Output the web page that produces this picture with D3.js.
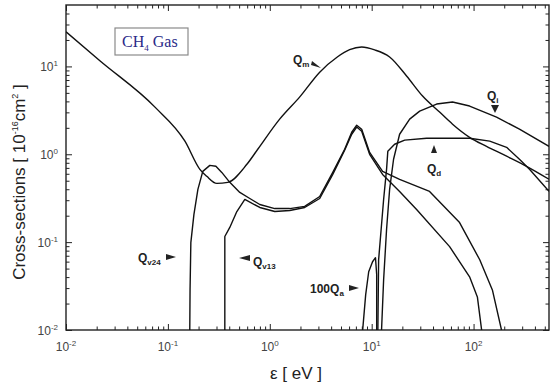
<!DOCTYPE html>
<html>
<head>
<style>
  body { margin: 0; background: #fff; }
  .curve { fill: none; stroke: #111; stroke-width: 1.4; stroke-linejoin: round; }
  .frame { fill: none; stroke: #222; stroke-width: 1.4; }
  .tick line { stroke: #222; stroke-width: 1; }
  .ticklabel { font-family: Arial, "Liberation Sans", sans-serif; font-size: 12px; fill: #444; }
  .anno { font-family: Arial, "Liberation Sans", sans-serif; font-weight: bold; font-size: 12px; fill: #222; }
  .title { font-family: Arial, "Liberation Sans", sans-serif; font-size: 17px; fill: #222; }
</style>
</head>
<body>
<div id="chart"></div>
<script src="https://cdn.jsdelivr.net/npm/d3@7"></script>
<script>
//////////////////// data : [energy eV, cross-section 1e-16 cm2] ////////////////////
let Qm = [[0.01,24.8],[0.0215,11.6],[0.0747,3.44],[0.147,1.41],[0.206,0.674],[0.241,0.561],
  [0.302,0.466],[0.387,0.479],[0.596,0.769],[0.762,1.14],[1.25,2.51],[1.97,4.5],[3.09,8.6],
  [4.6,12.8],[6.08,15.5],[7.98,16.6],[10.7,15.4],[15.0,12.8],[22.0,7.79],[31.6,4.6],[46.4,3.02],
  [62.2,2.2],[91.4,1.56],[134,1.23],[211,0.95],[331,0.73],[550,0.52]];

let Qv24 = [[0.164,0.01],[0.165,0.0286],[0.168,0.0986],[0.18,0.206],[0.197,0.398],[0.22,0.639],
  [0.258,0.748],[0.296,0.73],[0.338,0.622],[0.405,0.479],[0.508,0.368],[0.637,0.314],[0.798,0.268],
  [1.12,0.241],[1.57,0.241],[2.2,0.255],[3.09,0.331],[4.15,0.622],[5.43,1.14],[6.37,1.78],
  [7.13,2.14],[7.98,1.93],[9.55,1.05],[12.8,0.64],[18.8,0.518],[37.0,0.378],[72.9,0.167],
  [115,0.063],[153,0.0286],[188,0.01]];

let Qv13 = [[0.362,0.01],[0.362,0.116],[0.405,0.147],[0.475,0.223],[0.569,0.306],[0.798,0.248],
  [1.12,0.223],[1.57,0.229],[2.2,0.248],[3.09,0.314],[4.15,0.59],[5.43,1.11],[6.37,1.69],
  [7.13,2.04],[7.98,1.83],[9.55,1.0],[12.8,0.59],[18.8,0.378],[27.6,0.235],[58.2,0.0889],
  [91.4,0.0403],[109,0.0238],[120,0.01]];

let Qa100 = [[8.16,0.01],[8.73,0.0251],[9.35,0.046],[10.2,0.0598],[10.9,0.0665],[11.2,0.0425],[11.2,0.01]];

let Qd = [[11.5,0.01],[11.7,0.063],[13.1,0.306],[14.0,0.674],[14.4,1.08],[16.8,1.3],[21.1,1.45],
  [34.6,1.52],[91.4,1.52],[144,1.41],[211,1.2],[282,0.877],[354,0.674],[550,0.378]];

let Qi = [[12.5,0.01],[13.1,0.0373],[14.0,0.139],[15.0,0.398],[16.4,0.877],[18.8,1.69],[23.6,2.51],
  [29.6,3.1],[43.4,3.73],[62.2,3.93],[91.4,3.54],[168,2.65],[282,1.93],[550,1.23]];

let xMajor = [0.01, 0.1, 1, 10, 100];
let xMajorExp = ['-2', '-1', '0', '1', '2'];
let yMajor = [0.01, 0.1, 1, 10];
let yMajorExp = ['-2', '-1', '0', '1'];

//////////////////// layout ////////////////////
let W = 551, H = 383;
let X0 = 66, X1 = 549, Y0 = 330, Y1 = 5;

let svg = d3.select('#chart').append('svg')
  .attr('width', W).attr('height', H);

let x = d3.scaleLog().domain([0.01, 550]).range([X0, X1]);
let y = d3.scaleLog().domain([0.01, 50]).range([Y0, Y1]);

function minors(dom) {
  let out = [];
  for (let p = -3; p <= 3; p++) {
    for (let k = 2; k <= 9; k++) {
      let v = k * Math.pow(10, p);
      if (v > dom[0] && v < dom[1]) out.push(v);
    }
  }
  return out;
}
let xMinor = minors(x.domain());
let yMinor = minors(y.domain());

// ticks (all pointing inward)
function ticks(axis, tx, ty) {
  let g = svg.append('g').attr('class', 'tick').attr('transform', `translate(${tx},${ty})`).call(axis);
  g.select('.domain').remove();
  g.selectAll('text').remove();
  g.selectAll('line').attr('stroke', '#222');
}
ticks(d3.axisBottom(x).tickValues(xMajor).tickSize(-6), 0, Y0);
ticks(d3.axisBottom(x).tickValues(xMinor).tickSize(-3.5), 0, Y0);
ticks(d3.axisTop(x).tickValues(xMajor).tickSize(-6), 0, Y1);
ticks(d3.axisTop(x).tickValues(xMinor).tickSize(-3.5), 0, Y1);
ticks(d3.axisLeft(y).tickValues(yMajor).tickSize(-6), X0, 0);
ticks(d3.axisLeft(y).tickValues(yMinor).tickSize(-3.5), X0, 0);
ticks(d3.axisRight(y).tickValues(yMajor).tickSize(-6), X1, 0);
ticks(d3.axisRight(y).tickValues(yMinor).tickSize(-3.5), X1, 0);

svg.append('rect').attr('class', 'frame')
  .attr('x', X0).attr('y', Y1).attr('width', X1 - X0).attr('height', Y0 - Y1);

// tick labels 10^n
xMajor.forEach((v, i) => {
  let t = svg.append('text').attr('class', 'ticklabel')
    .attr('x', x(v)).attr('y', 351).attr('text-anchor', 'middle');
  t.append('tspan').text('10');
  t.append('tspan').attr('dy', -5).attr('font-size', 8).text(xMajorExp[i]);
});
yMajor.forEach((v, i) => {
  let t = svg.append('text').attr('class', 'ticklabel')
    .attr('x', 58).attr('y', y(v) + 5).attr('text-anchor', 'end');
  t.append('tspan').text('10');
  t.append('tspan').attr('dy', -5).attr('font-size', 8).text(yMajorExp[i]);
});

// curves
let clip = svg.append('clipPath').attr('id', 'clip').append('rect')
  .attr('x', X0).attr('y', Y1).attr('width', X1 - X0).attr('height', Y0 - Y1);
let line = d3.line().x(d => x(d[0])).y(d => y(d[1]));
let smooth = d3.line().x(d => x(d[0])).y(d => y(d[1])).curve(d3.curveMonotoneX);
let plot = svg.append('g').attr('clip-path', 'url(#clip)');
plot.append('path').attr('class', 'curve').attr('d', smooth(Qm));
[Qv24, Qv13, Qa100, Qd, Qi].forEach(s => {
  plot.append('path').attr('class', 'curve').attr('d', line(s));
});

// legend box
svg.append('rect').attr('x', 115).attr('y', 28).attr('width', 73).attr('height', 27)
  .attr('fill', '#fff').attr('stroke', '#8a8a8a').attr('stroke-width', 1.2);
let lg = svg.append('text').attr('x', 122).attr('y', 47)
  .attr('font-family', '"Liberation Serif", "Times New Roman", serif')
  .attr('font-size', 16).attr('fill', '#2a2a88');
lg.append('tspan').text('CH');
lg.append('tspan').attr('dy', 4).attr('font-size', 9).text('4');
lg.append('tspan').attr('dy', -4).text(' Gas');

// annotations
function anno(px, py, main, sub, pre) {
  let t = svg.append('text').attr('class', 'anno').attr('x', px).attr('y', py);
  if (pre) t.append('tspan').text(pre);
  t.append('tspan').text(main);
  t.append('tspan').attr('dy', 3).attr('font-size', 8).text(sub);
}
function tri(pts) {
  svg.append('path').attr('d', 'M' + pts.map(p => p.join(',')).join('L') + 'Z').attr('fill', '#222');
}
anno(293, 64, 'Q', 'm');
tri([[321, 68], [312, 61], [311, 65]]);
anno(487, 100, 'Q', 'i');
tri([[495, 113], [491, 105], [499, 105]]);
anno(427, 173, 'Q', 'd');
tri([[434, 145], [431, 153], [437, 153]]);
anno(138, 262, 'Q', 'v24');
tri([[176, 257], [166, 254], [166, 260]]);
anno(253, 266, 'Q', 'v13');
tri([[239, 258], [250, 255], [250, 261]]);
anno(310, 293, 'Q', 'a', '100');
tri([[359, 288], [349, 285], [349, 291]]);

// axis titles
svg.append('text').attr('class', 'title')
  .attr('x', 296).attr('y', 379).attr('font-size', 16).attr('text-anchor', 'middle').text('ε [ eV ]');
let yt = svg.append('text').attr('class', 'title')
  .attr('transform', 'translate(25,182) rotate(-90)').attr('text-anchor', 'middle');
yt.append('tspan').text('Cross-sections [ 10');
yt.append('tspan').attr('dy', -7).attr('font-size', 9).text('-16');
yt.append('tspan').attr('dy', 7).text('cm');
yt.append('tspan').attr('dy', -7).attr('font-size', 9).text('2');
yt.append('tspan').attr('dy', 7).text(' ]');
</script>
</body>
</html>
